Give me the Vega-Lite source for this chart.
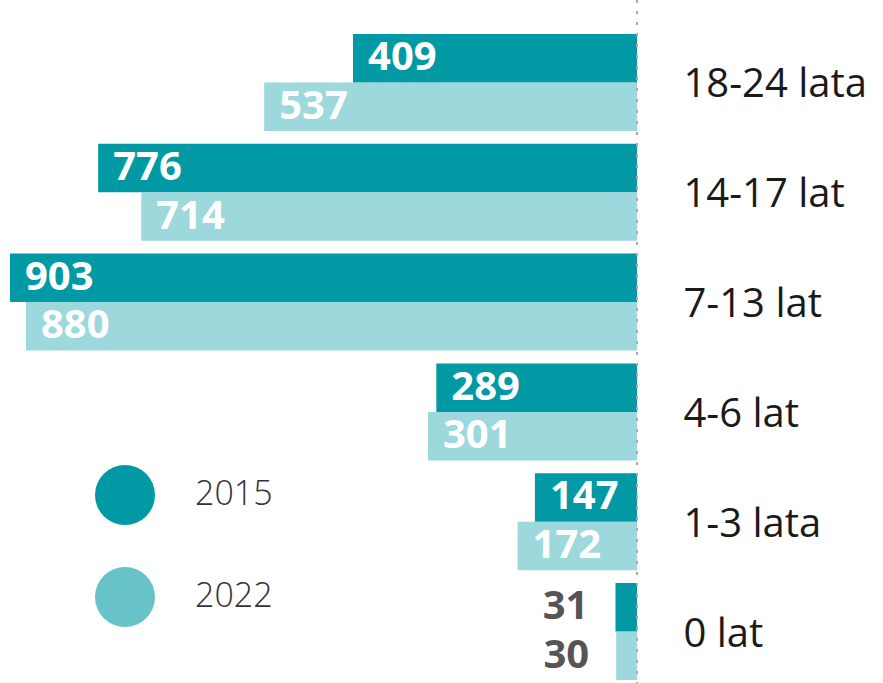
{
  "$schema": "https://vega.github.io/schema/vega-lite/v6.json",
  "width": 627,
  "height": 683,
  "autosize": {"type": "none"},
  "padding": {"left": 10, "right": 246, "top": 0, "bottom": 0},
  "background": "white",
  "config": {"view": {"stroke": null}, "font": "Open Sans"},
  "data": {
    "values": [
      {"age": "18-24 lata", "year": "2015", "value": 409},
      {"age": "18-24 lata", "year": "2022", "value": 537},
      {"age": "14-17 lat", "year": "2015", "value": 776},
      {"age": "14-17 lat", "year": "2022", "value": 714},
      {"age": "7-13 lat", "year": "2015", "value": 903},
      {"age": "7-13 lat", "year": "2022", "value": 880},
      {"age": "4-6 lat", "year": "2015", "value": 289},
      {"age": "4-6 lat", "year": "2022", "value": 301},
      {"age": "1-3 lata", "year": "2015", "value": 147},
      {"age": "1-3 lata", "year": "2022", "value": 172},
      {"age": "0 lat", "year": "2015", "value": 31},
      {"age": "0 lat", "year": "2022", "value": 30}
    ]
  },
  "encoding": {
    "y": {
      "field": "age", "type": "nominal", "sort": null,
      "scale": {"paddingInner": 0.117, "paddingOuter": 0.168, "align": 0.92},
      "axis": {"orient": "right", "title": null, "domain": false, "ticks": false, "labelPadding": 46, "labelOffset": 3, "labelLimit": 0, "labelFontSize": 40, "labelColor": "#1a1a1a", "labelFont": "Open Sans", "labelFontWeight": 400}
    },
    "yOffset": {"field": "year", "type": "nominal", "scale": {"paddingInner": 0, "paddingOuter": 0}}
  },
  "layer": [
    {
      "mark": {"type": "bar"},
      "encoding": {
        "x": {"field": "value", "type": "quantitative", "scale": {"domain": [0, 903], "reverse": true, "nice": false, "zero": true}, "axis": null},
        "fillOpacity": {"condition": {"test": "datum.year === '2022'", "value": 0.65}, "value": 1},
        "color": {
          "field": "year", "type": "nominal",
          "scale": {"domain": ["2015", "2022"], "range": ["#0099a4", "#68c3c9"]},
          "legend": {
            "orient": "none", "legendX": 85, "legendY": 465, "title": null,
            "symbolType": "circle", "symbolSize": 3600, "symbolStrokeWidth": 0, "symbolOpacity": 1,
            "labelFontSize": 34, "labelFont": "Open Sans", "labelFontWeight": 300, "labelColor": "#333333",
            "labelOffset": 40, "rowPadding": 42
          }
        }
      }
    },
    {
      "transform": [{"filter": "datum.value >= 100"}],
      "mark": {"type": "text", "align": "left", "baseline": "middle", "dx": 15, "fontSize": 40, "fontWeight": "bold", "color": "white"},
      "encoding": {
        "x": {"field": "value", "type": "quantitative"},
        "text": {"field": "value", "type": "quantitative"}
      }
    },
    {
      "transform": [{"filter": "datum.value < 100"}],
      "mark": {"type": "text", "align": "right", "baseline": "middle", "dx": -27, "fontSize": 40, "fontWeight": "bold", "color": "#555555"},
      "encoding": {
        "x": {"field": "value", "type": "quantitative"},
        "text": {"field": "value", "type": "quantitative"}
      }
    },
    {
      "mark": {"type": "rule", "stroke": "#aaaaaa", "strokeWidth": 2, "strokeDash": [3, 8]},
      "encoding": {"x": {"datum": 0}, "y": {"value": 0}, "y2": {"value": 683}, "yOffset": null}
    }
  ]
}
